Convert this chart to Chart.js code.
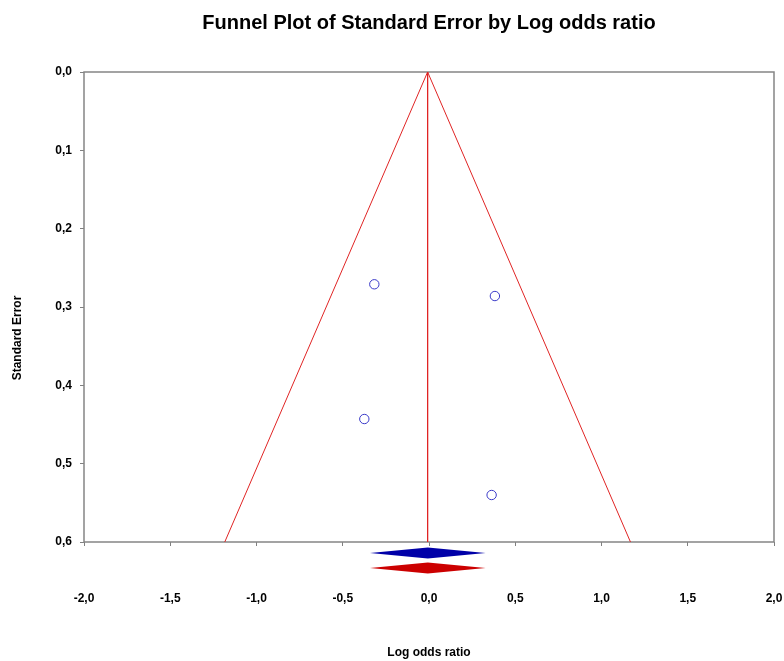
<!DOCTYPE html>
<html><head><meta charset="utf-8">
<script src="https://cdn.jsdelivr.net/npm/chart.js@4.4.1/dist/chart.umd.min.js"></script>
<style>html,body{margin:0;padding:0;background:#fff}#wrap{width:784px;height:661px}</style>
</head><body><div id="wrap"><canvas id="c" width="784" height="661"></canvas></div>
<script>
const titleText = 'Funnel Plot of Standard Error by Log odds ratio';
const xTitle = 'Log odds ratio';
const yTitle = 'Standard Error';
const studyLogOR = [-0.317, 0.382, -0.375, 0.363];
const studySE = [0.271, 0.286, 0.443, 0.540];
const funnelX = [-1.184, -0.008, 1.168];
const funnelY = [0.6, 0.0, 0.6];
const centerX = [-0.008, -0.008];
const centerY = [0.0, 0.6];
const diamondNames = ['Fixed', 'Random'];
const diamondLower = [-0.342, -0.342];
const diamondEst = [-0.007, -0.007];
const diamondUpper = [0.328, 0.328];
const xTicks = [-2, -1.5, -1, -0.5, 0, 0.5, 1, 1.5, 2];
const xTickLabels = ['-2,0', '-1,5', '-1,0', '-0,5', '0,0', '0,5', '1,0', '1,5', '2,0'];
const yTicks = [0, 0.1, 0.2, 0.3, 0.4, 0.5, 0.6];
const yTickLabels = ['0,0', '0,1', '0,2', '0,3', '0,4', '0,5', '0,6'];

const FONT = '"Liberation Sans", Arial, Helvetica, sans-serif';
Chart.defaults.font.family = FONT;
Chart.defaults.color = '#000';

const pts = (xs, ys) => xs.map((x, i) => ({x: x, y: ys[i]}));

const boxPlugin = {
  id: 'box',
  beforeDatasetsDraw(chart) {
    const {ctx, chartArea: a} = chart;
    ctx.save();
    ctx.strokeStyle = '#858585';
    ctx.lineWidth = 1.5;
    ctx.strokeRect(a.left, a.top, a.right - a.left, a.bottom - a.top);
    ctx.restore();
  },
  afterDraw(chart) {
    const {ctx, chartArea: a} = chart;
    const xs = chart.scales.x;
    const rowStyle = [{dy: 11, color: '#0000a8'}, {dy: 26, color: '#cc0000'}];
    ctx.save();
    diamondNames.forEach((n, i) => {
      const yc = a.bottom + rowStyle[i].dy, h = 5.5;
      const xl = xs.getPixelForValue(diamondLower[i]);
      const xe = xs.getPixelForValue(diamondEst[i]);
      const xu = xs.getPixelForValue(diamondUpper[i]);
      ctx.beginPath();
      ctx.moveTo(xl, yc);
      ctx.lineTo(xe, yc - h);
      ctx.lineTo(xu, yc);
      ctx.lineTo(xe, yc + h);
      ctx.closePath();
      ctx.fillStyle = rowStyle[i].color;
      ctx.fill();
    });
    // y axis title
    ctx.translate(18, 338);
    ctx.rotate(-Math.PI / 2);
    ctx.font = 'bold 12px ' + FONT;
    ctx.fillStyle = '#000';
    ctx.textAlign = 'center';
    ctx.textBaseline = 'middle';
    ctx.fillText(yTitle, 0, 0);
    ctx.restore();
  }
};

new Chart(document.getElementById('c'), {
  type: 'scatter',
  data: {
    datasets: [
      {data: pts(funnelX, funnelY), showLine: true, borderColor: '#e02424', borderWidth: 1, pointRadius: 0, fill: false},
      {data: pts(centerX, centerY), showLine: true, borderColor: '#e02424', borderWidth: 1, pointRadius: 0, fill: false},
      {data: pts(studyLogOR, studySE), showLine: false, pointStyle: 'circle', pointRadius: 4.7, borderWidth: 1,
       borderColor: '#3a3ac8', backgroundColor: 'rgba(255,255,255,0)'}
    ]
  },
  options: {
    responsive: false,
    animation: false,
    layout: {padding: {left: 0, right: 10, top: 0, bottom: 0}},
    plugins: {
      legend: {display: false},
      tooltip: {enabled: false},
      title: {display: true, text: titleText, fullSize: false, color: '#000',
              font: {size: 20, weight: 'bold'}, padding: {top: 11, bottom: 37}}
    },
    scales: {
      x: {
        type: 'linear', position: 'bottom', min: -2, max: 2,
        afterBuildTicks: s => { s.ticks = xTicks.map(v => ({value: v})); },
        afterFit: s => { s.height = 119; s.paddingLeft = 12; s.paddingRight = 10; },
        border: {display: false},
        grid: {drawOnChartArea: false, drawTicks: true, tickLength: 4, color: '#808080'},
        ticks: {padding: 45, maxRotation: 0, font: {size: 12, weight: 'bold'}, color: '#000',
                callback: (v, i) => xTickLabels[i]},
        title: {display: true, text: xTitle, font: {size: 12, weight: 'bold'}, color: '#000',
                padding: {top: 0, bottom: 1.3}}
      },
      y: {
        type: 'linear', position: 'left', min: 0, max: 0.6, reverse: true,
        afterBuildTicks: s => { s.ticks = yTicks.map(v => ({value: v})); },
        afterFit: s => { s.width = 84; },
        border: {display: false},
        grid: {drawOnChartArea: false, drawTicks: true, tickLength: 4, color: '#808080'},
        ticks: {padding: 8, font: {size: 12, weight: 'bold'}, color: '#000',
                callback: (v, i) => yTickLabels[i]},
        title: {display: false}
      }
    }
  },
  plugins: [boxPlugin]
});
</script>
</body></html>
